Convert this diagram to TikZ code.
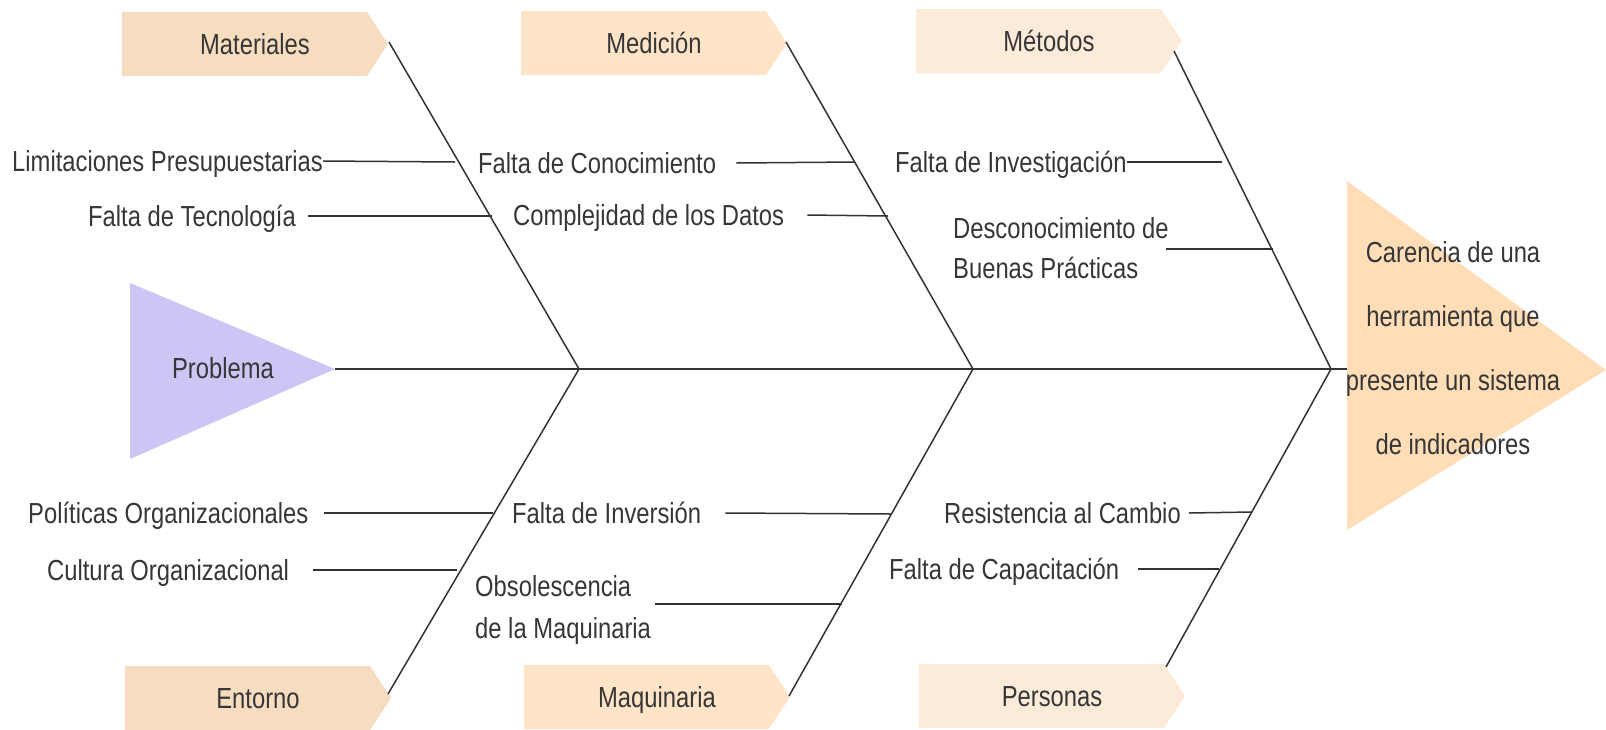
\documentclass[tikz,border=0pt]{standalone}
\usepackage{fontspec}
\setmainfont{Liberation Sans}[FakeStretch=0.82]
\usetikzlibrary{calc}

\definecolor{boneline}{HTML}{333333}
\definecolor{txtgray}{HTML}{363636}
\definecolor{boxA}{HTML}{F6DDBF}
\definecolor{boxB}{HTML}{FFE4C7}
\definecolor{boxC}{HTML}{FDEBD9}
\definecolor{headviolet}{HTML}{CDC6F4}
\definecolor{headorange}{HTML}{FFDDB7}

\tikzset{
  bone/.style={draw=boneline, line width=1.5pt},
  boxtext/.style={inner sep=0pt, text height=21pt, text depth=0pt},
  cause/.style={inner sep=0pt, anchor=west, text height=21pt, text depth=0pt},
  twoline/.style={inner sep=0pt, anchor=base west, align=left, font=\fontsize{29}{40}\selectfont}
}

% name, left x, centre y, colour, label
\newcommand{\bonebox}[5]{%
  \fill[#4] (#2,#3-32) -- ++(245,0) -- ++(21,32) -- ++(-21,32) -- ++(-245,0) -- cycle;
  \node[boxtext] (#1) at (#2+133,#3) {#5};
}

\begin{document}
\begin{tikzpicture}[x=1pt,y=-1pt,font=\fontsize{29}{35}\selectfont,text=txtgray]
  \useasboundingbox (0,0) rectangle (1606,729);

  %%%%% heads %%%%%
  \fill[headviolet] (130,283) -- (335,369) -- (130,459) -- cycle;
  \node[boxtext] (prob) at (223,368) {Problema};
  \fill[headorange] (1347,181) -- (1606,370) -- (1347,530) -- cycle;

  %%%%% spine %%%%%
  \coordinate (cola) at (335,369);
  \coordinate (j1) at (579,369);
  \coordinate (j2) at (973,369);
  \coordinate (j3) at (1331,369);
  \coordinate (cabeza) at (1347,369);
  \draw[bone] (cola) -- (cabeza);

  %%%%% category boxes %%%%%
  \bonebox{mat}{122}{44}{boxA}{Materiales}
  \bonebox{med}{521}{43}{boxB}{Medición}
  \bonebox{met}{916}{41}{boxC}{Métodos}
  \bonebox{ent}{125}{698}{boxA}{Entorno}
  \bonebox{maq}{524}{697}{boxB}{Maquinaria}
  \bonebox{per}{919}{696}{boxC}{Personas}

  \coordinate (matEnd) at (389,42);
  \coordinate (medEnd) at (786,42);
  \coordinate (metEnd) at (1174,51);
  \coordinate (entEnd) at (388,694);
  \coordinate (maqEnd) at (789,696);
  \coordinate (perEnd) at (1166,667);

  \draw[bone] (matEnd) -- (j1);
  \draw[bone] (medEnd) -- (j2);
  \draw[bone] (metEnd) -- (j3);
  \draw[bone] (entEnd) -- (j1);
  \draw[bone] (maqEnd) -- (j2);
  \draw[bone] (perEnd) -- (j3);

  %%%%% causes, top %%%%%
  \node[cause] (lim) at (12,161) {Limitaciones Presupuestarias};
  \node[cause] (tec) at (88,216) {Falta de Tecnología};
  \node[cause] (con) at (478,163) {Falta de Conocimiento};
  \node[cause] (dat) at (513,215) {Complejidad de los Datos};
  \node[cause] (inv) at (895,162) {Falta de Investigación};
  \node[twoline] (bue) at (953,278) {Desconocimiento de\\Buenas Prácticas};

  \coordinate (mat1) at (455,162);
  \coordinate (mat2) at (492,216);
  \coordinate (med1) at (855,162);
  \coordinate (med2) at (888,216);
  \coordinate (met1) at (1222,162);
  \coordinate (met2) at (1273,249);

  \draw[bone] (lim.east) -- (mat1);
  \draw[bone] ([xshift=12pt]tec.east) -- (mat2);
  \draw[bone] ([xshift=20pt]con.east) -- (med1);
  \draw[bone] ([xshift=23pt]dat.east) -- (med2);
  \draw[bone] (inv.east) -- (met1);
  \coordinate (bueA) at (bue.east |- met2);
  \draw[bone] ([xshift=-3pt]bueA) -- (met2);

  %%%%% causes, bottom %%%%%
  \node[cause] (pol) at (28,513) {Políticas Organizacionales};
  \node[cause] (cul) at (47,570) {Cultura Organizacional};
  \node[cause] (fin) at (512,513) {Falta de Inversión};
  \node[twoline, font=\fontsize{29}{42}\selectfont] (obs) at (475,638) {Obsolescencia\\de la Maquinaria};
  \node[cause] (res) at (944,513) {Resistencia al Cambio};
  \node[cause] (cap) at (889,569) {Falta de Capacitación};

  \coordinate (ent1) at (493,513);
  \coordinate (ent2) at (457,570);
  \coordinate (maq1) at (891,514);
  \coordinate (maq2) at (842,604);
  \coordinate (per1) at (1252,512);
  \coordinate (per2) at (1219,569);

  \draw[bone] ([xshift=15pt]pol.east) -- (ent1);
  \draw[bone] ([xshift=24pt]cul.east) -- (ent2);
  \draw[bone] ([xshift=24pt]fin.east) -- (maq1);
  \coordinate (obsA) at (obs.east |- maq2);
  \draw[bone] ([xshift=4pt]obsA) -- (maq2);
  \draw[bone] ([xshift=8pt]res.east) -- (per1);
  \draw[bone] ([xshift=19pt]cap.east) -- (per2);

  %%%%% effect %%%%%
  \node[inner sep=0pt, align=center, font=\fontsize{29}{64}\selectfont] (efecto) at (1453,348)
    {Carencia de una\\herramienta que\\presente un sistema\\de indicadores};
\end{tikzpicture}
\end{document}
